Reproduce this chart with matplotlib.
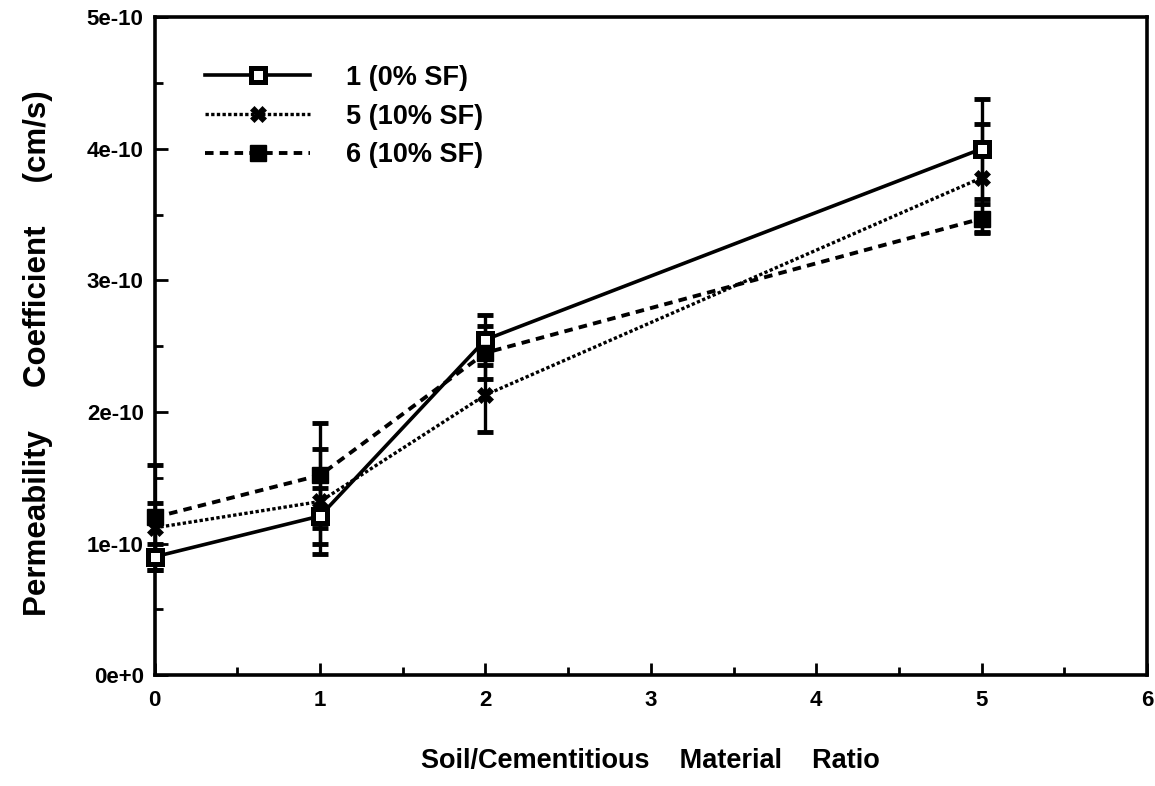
import matplotlib
matplotlib.use("Agg")
import matplotlib.pyplot as plt
from matplotlib.ticker import FixedLocator, FuncFormatter

# soil/cementitious ratio and permeability (cm/s) per mix
ratio = [0, 1, 2, 5]
mix1_k = [0.90e-10, 1.21e-10, 2.55e-10, 4.00e-10]
mix1_err = [0.10e-10, 0.21e-10, 0.19e-10, 0.38e-10]
mix5_k = [1.12e-10, 1.32e-10, 2.13e-10, 3.78e-10]
mix5_err = [0.19e-10, 0.40e-10, 0.28e-10, 0.41e-10]
mix6_k = [1.20e-10, 1.52e-10, 2.45e-10, 3.47e-10]
mix6_err = [0.40e-10, 0.40e-10, 0.20e-10, 0.11e-10]
labels = ["1 (0% SF)", "5 (10% SF)", "6 (10% SF)"]

x_major = [0, 1, 2, 3, 4, 5, 6]
x_minor = [0.5, 1.5, 2.5, 3.5, 4.5, 5.5]
y_major = [0, 1e-10, 2e-10, 3e-10, 4e-10, 5e-10]
y_minor = [0.5e-10, 1.5e-10, 2.5e-10, 3.5e-10, 4.5e-10]

plt.rcParams['font.family'] = ['Liberation Sans', 'DejaVu Sans']
plt.rcParams['font.weight'] = 'bold'

fig = plt.figure(figsize=(11.55, 7.86), dpi=100)
ax = fig.add_axes([0.134, 0.141, 0.859, 0.837])

styles = [
    dict(ls='-', lw=2.6, marker='s', mfc='white', mec='black', ms=10, mew=3.6),
    dict(ls=(0, (1, 0.7)), lw=2.4, marker='X', mfc='black', mec='black', ms=12, mew=0.5),
    dict(ls=(0, (2.2, 1.6)), lw=2.8, marker='s', mfc='black', mec='black', ms=11, mew=1),
]
series = [(mix1_k, mix1_err), (mix5_k, mix5_err), (mix6_k, mix6_err)]

for (k, err), st, lab in zip(series, styles, labels):
    ax.errorbar(ratio, k, yerr=err, fmt='none', ecolor='black', elinewidth=2.4,
                capsize=6, capthick=3.5, zorder=2, clip_on=False)
    ax.plot(ratio, k, color='black', label=lab, zorder=3, clip_on=False, **st)

ax.set_xlim(0, 6)
ax.set_ylim(0, 5e-10)
ax.xaxis.set_major_locator(FixedLocator(x_major))
ax.xaxis.set_minor_locator(FixedLocator(x_minor))
ax.yaxis.set_major_locator(FixedLocator(y_major))
ax.yaxis.set_minor_locator(FixedLocator(y_minor))


def sci_label(v, pos):
    if abs(v) < 1e-15:
        return "0e+0"
    return "%de-10" % round(v / 1e-10)


ax.yaxis.set_major_formatter(FuncFormatter(sci_label))
ax.tick_params(which='both', direction='in', width=2, labelsize=16)
ax.tick_params(which='major', length=9)
ax.tick_params(which='minor', length=6)
ax.tick_params(axis='y', which='both', left=True, right=False, pad=8)
ax.tick_params(axis='x', which='both', bottom=True, top=False, pad=11)
for lbl in ax.get_xticklabels() + ax.get_yticklabels():
    lbl.set_fontweight('bold')
for sp in ax.spines.values():
    sp.set_linewidth(2.6)

ax.set_xlabel("Soil/Cementitious    Material    Ratio", fontsize=19.5,
              fontweight='bold', va='center')
ax.xaxis.set_label_coords(0.5, -0.13)
ax.set_ylabel("Permeability     Coefficient     (cm/s)", fontsize=22.5,
              fontweight='bold', va='center')
ax.yaxis.set_label_coords(-0.118, 0.49)

ax.legend(loc='upper left', bbox_to_anchor=(0.0395, 0.944), frameon=False,
          fontsize=19.5, handlelength=3.9, handletextpad=1.3, labelspacing=0.47,
          numpoints=1, borderaxespad=0)

fig.savefig("out.png", dpi=100)
